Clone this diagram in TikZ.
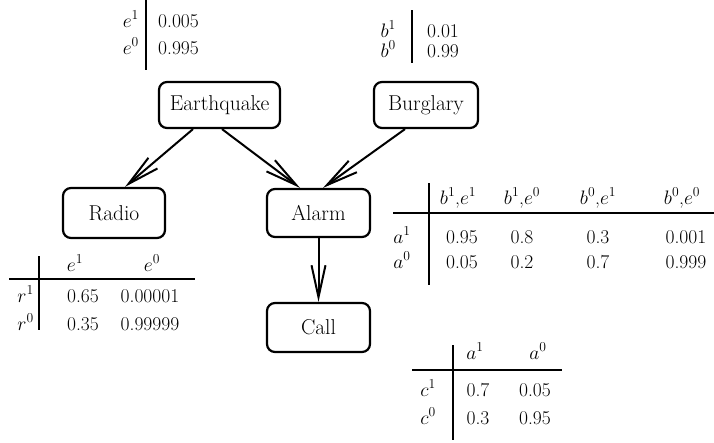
\documentclass[tikz,border=0pt]{standalone}
\usepackage{fix-cm}
\usetikzlibrary{arrows.meta}
\begin{document}
\begin{tikzpicture}[x=1pt,y=-1pt,
  var/.style={draw, line width=2.2pt, rounded corners=8pt, inner sep=0pt, font=\fontsize{21.5}{25}\selectfont},
  edge/.style={line width=2pt, -{Straight Barb[length=32pt,width=14pt]}},
  cell/.style={anchor=base, inner sep=0pt, font=\fontsize{19.5}{23}\selectfont},
  lcell/.style={cell, anchor=base west},
  rcell/.style={cell, anchor=base east},
  rule/.style={line width=1.4pt}]
\useasboundingbox (0,0) rectangle (714,442);

% variables
\node[var, minimum width=121pt, minimum height=46pt] (eq) at (219.5,105) {Earthquake};
\node[var, minimum width=104pt, minimum height=46pt] (bu) at (426,105) {Burglary};
\node[var, minimum width=102pt, minimum height=50pt] (ra) at (114,213) {Radio};
\node[var, minimum width=103pt, minimum height=48pt] (al) at (318.5,213) {Alarm};
\node[var, minimum width=103pt, minimum height=49pt] (ca) at (318.5,327.5) {Call};

% edges
\draw[edge] ([xshift=-26.5pt]eq.south) -- ([xshift=11pt]ra.north);
\draw[edge] ([xshift=2.5pt]eq.south) -- ([xshift=-18.5pt]al.north);
\draw[edge] ([xshift=-21pt]bu.south) -- ([xshift=4.5pt]al.north);
\draw[edge] (al.south) -- (ca.north);

% Earthquake CPD
\draw[rule] (146,0) -- (146,70);
\node[rcell] (e1) at (139,27) {$e^1$};
\node[rcell] (e0) at (139,54) {$e^0$};
\node[lcell] (pe1) at (158,27) {0.005};
\node[lcell] (pe0) at (158,54) {0.995};

% Burglary CPD
\draw[rule] (412,10) -- (412,63);
\node[rcell] (b1) at (396,37) {$b^1$};
\node[rcell] (b0) at (396,57) {$b^0$};
\node[lcell] (pb1) at (427,37) {0.01};
\node[lcell] (pb0) at (427,57) {0.99};

% Radio CPD
\draw[rule] (39,256) -- (39,330);
\draw[rule] (9,279) -- (195,279);
\node[cell] (rh1) at (75,271) {$e^1$};
\node[cell] (rh0) at (152,271) {$e^0$};
\node[rcell] (r1) at (34,302) {$r^1$};
\node[rcell] (r0) at (34,330) {$r^0$};
\node[cell] (r11) at (83,302) {0.65};
\node[cell] (r12) at (150,302) {0.00001};
\node[cell] (r01) at (83,330) {0.35};
\node[cell] (r02) at (150,330) {0.99999};

% Alarm CPD
\draw[rule] (429,183) -- (429,285);
\draw[rule] (393,213) -- (714,213);
\node[cell] (ah1) at (458,204) {$b^1$,$e^1$};
\node[cell] (ah2) at (522,204) {$b^1$,$e^0$};
\node[cell] (ah3) at (598,204) {$b^0$,$e^1$};
\node[cell] (ah4) at (682,204) {$b^0$,$e^0$};
\node[cell] (a1) at (402,243) {$a^1$};
\node[cell] (a0) at (402,268) {$a^0$};
\node[cell] (a11) at (462,243) {0.95};
\node[cell] (a12) at (522,243) {0.8};
\node[cell] (a13) at (598,243) {0.3};
\node[cell] (a14) at (686,243) {0.001};
\node[cell] (a01) at (462,268) {0.05};
\node[cell] (a02) at (522,268) {0.2};
\node[cell] (a03) at (598,268) {0.7};
\node[cell] (a04) at (686,268) {0.999};

% Call CPD
\draw[rule] (453,345) -- (453,440);
\draw[rule] (412,370) -- (562,370);
\node[cell] (ch1) at (475,359) {$a^1$};
\node[cell] (ch0) at (538,359) {$a^0$};
\node[cell] (c1) at (428,396) {$c^1$};
\node[cell] (c0) at (428,424) {$c^0$};
\node[cell] (c11) at (478,396) {0.7};
\node[cell] (c12) at (535,396) {0.05};
\node[cell] (c01) at (478,424) {0.3};
\node[cell] (c02) at (535,424) {0.95};
\end{tikzpicture}
\end{document}
